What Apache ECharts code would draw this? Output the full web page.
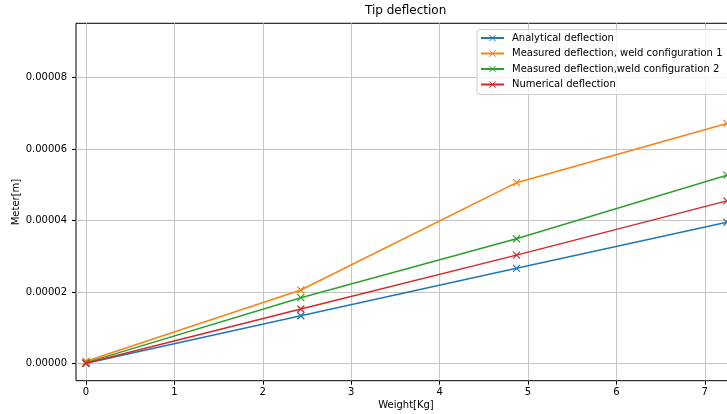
<!DOCTYPE html>
<html><head><meta charset="utf-8">
<script src="https://cdn.jsdelivr.net/npm/echarts@6/dist/echarts.min.js"></script>
<style>html,body{margin:0;padding:0;background:#fff}#c{width:727px;height:414px}</style>
</head><body><div id="c"></div>
<script>
const weights = [0, 2.43, 4.87, 7.25];
const analytical = [0, 1.333e-5, 2.66e-5, 3.95e-5];
const measured1 = [6e-7, 2.053e-5, 5.06e-5, 6.72e-5];
const measured2 = [2e-7, 1.838e-5, 3.49e-5, 5.27e-5];
const numerical = [0, 1.521e-5, 3.03e-5, 4.55e-5];
const seriesNames = ['Analytical deflection', 'Measured deflection, weld configuration 1', 'Measured deflection,weld configuration 2', 'Numerical deflection'];
const seriesColors = ['#1f77b4', '#ff7f0e', '#2ca02c', '#d62728'];
const xTicks = [0, 1, 2, 3, 4, 5, 6, 7];
const yTicks = [0, 0.00002, 0.00004, 0.00006, 0.00008];

const FONT = 'DejaVu Sans';
const allData = [analytical, measured1, measured2, numerical];
function mk(i) {
  const c = seriesColors[i];
  return {
    name: seriesNames[i], type: 'line',
    data: weights.map((w, k) => [w, allData[i][k]]),
    symbol: 'path://M0,0L10,10M10,0L0,10', symbolSize: 7, showSymbol: true,
    lineStyle: { color: c, width: 1.5 },
    itemStyle: { color: c, borderColor: c, borderWidth: 1.2 },
    emphasis: { disabled: true }, z: 2 + i
  };
}
const chart = echarts.init(document.getElementById('c'), null, { renderer: 'canvas' });
chart.setOption({
  animation: false,
  backgroundColor: '#fff',
  title: { text: 'Tip deflection', left: 365, top: 5, padding: 0,
    textStyle: { fontFamily: FONT, fontSize: 12, fontWeight: 'normal', color: '#000' } },
  grid: { left: 76, top: 23.3, bottom: 33.3, right: -9, containLabel: false, outerBoundsMode: 'none',
    show: true, borderColor: '#000', borderWidth: 1, backgroundColor: 'transparent' },
  legend: {
    left: 477, top: 29.5, orient: 'vertical', itemWidth: 23, itemHeight: 8, itemGap: 5.5,
    padding: [3.5, 6, 5, 3], backgroundColor: 'rgba(255,255,255,0.8)', borderColor: '#cccccc',
    borderWidth: 1, borderRadius: 3,
    itemStyle: { borderWidth: 1 },
    textStyle: { fontFamily: FONT, fontSize: 10, color: '#000', padding: [0, 0, 0, 3] },
    data: seriesNames
  },
  xAxis: {
    type: 'value', min: -0.113, max: 7.353,
    axisLine: { show: false, onZero: false },
    axisTick: { show: true, length: 4, lineStyle: { color: '#000' }, customValues: xTicks },
    axisLabel: { customValues: xTicks, fontFamily: FONT, fontSize: 10, color: '#000', margin: 7,
      formatter: v => String(v) },
    splitLine: { show: true, lineStyle: { color: '#c4c4c4', width: 1 } },
    name: 'Weight[Kg]', nameLocation: 'middle', nameGap: 20, nameMoveOverlap: false,
    nameTextStyle: { fontFamily: FONT, fontSize: 10, color: '#000' }
  },
  yAxis: {
    type: 'value', min: -0.00000487, max: 0.00009524,
    axisLine: { show: false, onZero: false },
    axisTick: { show: true, length: 4, lineStyle: { color: '#000' }, customValues: yTicks },
    axisLabel: { customValues: yTicks, fontFamily: FONT, fontSize: 10, color: '#000', margin: 9,
      formatter: v => Number(v).toFixed(5) },
    splitLine: { show: true, lineStyle: { color: '#c4c4c4', width: 1 } },
    name: 'Meter[m]', nameLocation: 'middle', nameGap: 55, nameRotate: 90, nameMoveOverlap: false,
    nameTextStyle: { fontFamily: FONT, fontSize: 10, color: '#000' }
  },
  series: [0, 1, 2, 3].map(mk)
});
</script></body></html>
